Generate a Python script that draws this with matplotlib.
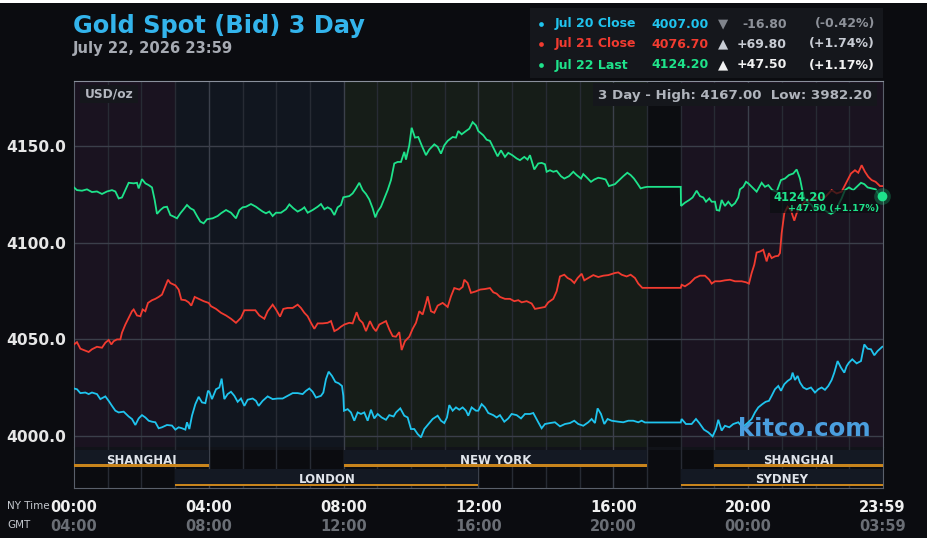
import matplotlib
matplotlib.use('Agg')
import matplotlib.pyplot as plt
import matplotlib.transforms as mtransforms
from matplotlib.patches import Rectangle
from matplotlib.lines import Line2D
import numpy as np

# ---------------- data (minutes after 00:00 NY time, USD/oz) ----------------
jul20_min = [0.0, 5.3, 11.3, 20.2, 26.1, 32.0, 40.9, 46.9, 55.8, 61.7, 67.6, 73.6, 79.5, 88.4, 97.3, 103.2,
             109.2, 115.1, 121.0, 127.0, 132.9, 138.8, 144.8, 150.7, 156.6, 165.5, 174.4, 180.4, 186.3, 192.2,
             198.2, 201.1, 205.3, 210.0, 216.0, 221.9, 227.8, 233.8, 238.5,
             240.9, 245.6, 252.8, 258.7, 262.8, 267.6, 273.5, 279.4, 285.4, 291.3, 297.2, 303.2, 309.1, 318.0,
             323.9, 328.7, 335.8, 344.7, 353.6, 362.5, 371.4, 380.3, 389.2, 398.1, 407.0, 413.0, 418.9, 424.8,
             430.7, 439.6, 443.8, 448.5, 453.3, 459.2, 465.2, 471.1, 477.0, 479.4, 480.6,
             487.1, 493.0, 498.9, 504.9, 510.8, 516.7, 522.7, 528.6, 534.5, 540.5, 547.6, 555.3, 561.2, 568.9,
             573.1, 580.8, 587.9, 593.9, 599.8, 605.7, 611.7, 617.6, 623.5, 629.5, 638.4, 647.3, 653.2, 659.1,
             663.9, 668.0, 674.0, 679.9, 685.8, 691.8, 697.7, 701.8, 707.8, 715.5,
             719.6, 725.6, 731.5, 737.4, 746.3, 752.3, 758.2, 765.9, 773.0, 779.0, 787.9, 795.6, 802.7, 811.6,
             817.5, 826.4, 832.4, 838.3, 847.2, 856.1, 865.0, 873.9, 882.8, 890.5, 897.6, 906.5, 915.4, 921.4,
             927.3, 932.0, 938.0, 943.9, 949.8, 957.0,
             968.8, 977.7, 986.6, 995.5, 1004.4, 1010.4, 1016.3, 1080.0, 1081.6, 1089.3, 1099.4, 1107.1, 1113.0,
             1121.3, 1129.0, 1136.7, 1142.7, 1146.8, 1152.8, 1158.7, 1166.4, 1173.5, 1182.4, 1190.0,
             1200.2, 1206.2, 1212.1, 1218.0, 1225.2, 1231.1, 1237.0, 1241.8, 1247.7, 1253.6, 1258.4, 1264.3,
             1270.2, 1276.2, 1279.1, 1283.3, 1288.0, 1292.2, 1298.1, 1304.1, 1311.8, 1318.9, 1324.8, 1330.8,
             1336.7, 1342.6, 1348.6, 1353.3, 1359.2, 1365.2, 1371.1, 1375.3, 1379.4, 1385.3, 1393.1, 1400.8,
             1406.7, 1412.6, 1418.6, 1424.5, 1430.4, 1438.7]
jul20_px = [4024.6, 4024.2, 4022.2, 4022.5, 4021.7, 4022.5, 4021.7, 4019.1, 4020.5, 4018.2, 4015.6, 4013.1, 4012.2,
            4012.6, 4010.1, 4008.8, 4005.7, 4009.1, 4010.8, 4009.6, 4007.9, 4007.4, 4007.1, 4004.0, 4004.5, 4005.7,
            4005.4, 4003.3, 4004.5, 4004.0, 4003.3, 4007.1, 4003.6, 4010.5, 4016.5, 4020.3, 4017.4, 4017.0, 4023.4,
            4022.9, 4019.1, 4024.2, 4025.1, 4029.7, 4019.1, 4021.7, 4022.9, 4020.8, 4017.7, 4019.4, 4015.6, 4018.8,
            4019.4, 4018.2, 4015.6, 4018.2, 4020.5, 4019.1, 4019.4, 4019.4, 4020.8, 4022.2, 4022.2, 4021.7, 4023.4,
            4024.6, 4022.9, 4019.9, 4020.8, 4022.5, 4029.4, 4033.3, 4031.1, 4028.0, 4027.3, 4025.9, 4020.8, 4013.1,
            4013.9, 4012.2, 4007.9, 4012.2, 4011.4, 4012.2, 4007.9, 4013.6, 4009.1, 4011.4, 4009.6, 4008.4, 4010.8,
            4010.1, 4012.2, 4014.3, 4010.5, 4009.6, 4003.6, 4003.6, 4001.0, 3999.3, 4003.6, 4005.7, 4008.8, 4010.5,
            4007.9, 4006.7, 4009.6, 4016.0, 4013.1, 4014.8, 4013.6, 4014.8, 4013.1, 4010.5, 4014.8, 4013.1,
            4013.1, 4016.5, 4014.8, 4011.9, 4010.8, 4009.6, 4010.8, 4007.4, 4009.1, 4011.4, 4010.8, 4009.1, 4011.4,
            4011.4, 4011.9, 4007.1, 4004.0, 4006.2, 4006.7, 4007.1, 4005.0, 4006.2, 4006.7, 4007.9, 4006.2, 4005.3,
            4007.1, 4008.8, 4006.7, 4014.3, 4011.4, 4006.2, 4008.8, 4007.9,
            4007.4, 4007.1, 4007.9, 4007.9, 4007.1, 4007.9, 4007.0, 4007.0, 4008.8, 4006.2, 4006.2, 4008.8, 4006.7,
            4003.3, 4001.9, 3999.8, 4003.6, 4008.4, 4002.8, 4005.3, 4004.5, 4006.2, 4007.1, 4004.5,
            4007.1, 4008.8, 4012.2, 4014.8, 4016.5, 4017.7, 4018.2, 4020.8, 4024.2, 4025.9, 4023.4, 4026.8,
            4028.5, 4029.7, 4032.8, 4029.0, 4031.1, 4027.7, 4025.1, 4024.2, 4025.1, 4022.5, 4024.2, 4025.1,
            4023.9, 4025.9, 4029.0, 4032.8, 4038.8, 4035.4, 4032.8, 4036.2, 4038.0, 4039.7, 4037.6, 4038.8,
            4047.4, 4045.2, 4044.9, 4041.8, 4044.0, 4046.2]

jul21_min = [0.0, 5.3, 11.3, 17.2, 26.1, 32.0, 40.9, 49.8, 55.8, 61.7, 66.5, 70.6, 76.5, 82.5, 85.4, 91.4, 97.3,
             103.2, 106.2, 112.1, 118.1, 122.2, 127.0, 131.7, 138.8, 144.8, 150.7, 156.6, 161.4, 167.3, 171.5,
             180.4, 186.3, 191.0, 198.2, 204.1, 208.8, 214.8, 221.9, 230.8, 239.7,
             243.9, 252.8, 261.6, 270.6, 279.4, 288.3, 297.2, 303.2, 312.1, 322.8, 329.9, 338.8, 344.7, 353.6,
             359.5, 366.7, 372.6, 380.3, 389.2, 398.1, 404.0, 410.0, 415.9, 421.8, 427.8, 433.7, 442.6, 451.5,
             457.4, 463.4, 469.3, 475.2,
             481.1, 490.0, 496.0, 503.1, 507.8, 513.8, 519.7, 526.8, 532.7, 537.5, 543.4, 549.4, 555.3, 561.2,
             567.2, 573.1, 579.0, 583.2, 589.1, 596.8, 602.8, 608.7, 614.6, 620.6, 626.5, 629.5, 635.4, 641.3,
             647.3, 656.2, 665.1, 671.0, 676.9, 685.8, 691.8, 694.7, 700.7, 706.6, 715.5,
             722.6, 731.5, 740.4, 746.3, 752.3, 758.2, 767.1, 776.0, 783.7, 790.8, 796.8, 805.7, 814.6, 820.5,
             829.4, 838.3, 844.2, 853.1, 859.1, 865.0, 872.7, 878.6, 884.6, 890.5, 896.4, 903.6, 908.3, 915.4,
             924.3, 933.2, 942.1, 951.0,
             962.9, 968.8, 974.8, 983.7, 990.8, 998.5, 1004.4, 1011.6, 1080.0, 1081.6, 1087.5, 1096.4, 1105.3,
             1114.2, 1123.1, 1130.8, 1135.0, 1140.9, 1149.8, 1158.7, 1167.6, 1176.5, 1188.4, 1196.0,
             1201.4, 1206.2, 1210.9, 1215.1, 1221.0, 1226.9, 1232.9, 1237.0, 1241.8, 1247.7, 1253.6, 1256.6,
             1259.6, 1264.3, 1270.2, 1276.2, 1282.1, 1286.3, 1292.2, 1301.1, 1313.0, 1324.8, 1336.7, 1348.6,
             1357.5, 1366.4, 1375.3, 1383.0, 1390.1, 1396.0, 1402.0, 1407.9, 1413.8, 1419.8, 1426.9, 1434.6,
             1439.9]
jul21_px = [4047.4, 4048.6, 4045.2, 4044.5, 4043.5, 4044.9, 4046.2, 4045.7, 4048.3, 4049.7, 4047.4, 4049.1, 4050.0,
            4050.0, 4053.5, 4057.7, 4061.2, 4064.6, 4065.5, 4062.4, 4062.0, 4065.5, 4064.6, 4068.9, 4070.3, 4071.0,
            4072.0, 4073.2, 4076.6, 4080.9, 4079.2, 4078.0, 4075.8, 4070.6, 4070.3, 4069.2, 4067.5, 4072.0, 4071.0,
            4069.8, 4068.9,
            4067.2, 4065.8, 4063.8, 4062.4, 4060.7, 4058.6, 4061.2, 4065.1, 4065.1, 4065.1, 4062.4, 4060.7, 4064.6,
            4068.0, 4065.5, 4061.8, 4065.8, 4066.3, 4066.3, 4068.0, 4066.3, 4063.8, 4062.0, 4058.6, 4055.5, 4058.3,
            4058.3, 4058.6, 4059.5, 4054.3, 4055.2, 4056.6,
            4057.7, 4058.6, 4058.3, 4064.1, 4060.3, 4058.6, 4054.3, 4059.5, 4056.0, 4054.3, 4057.7, 4058.6, 4059.5,
            4055.2, 4051.7, 4051.4, 4053.8, 4044.5, 4049.1, 4051.4, 4055.5, 4058.6, 4064.6, 4062.9, 4068.9, 4072.3,
            4064.6, 4063.8, 4067.5, 4068.9, 4066.8, 4072.3, 4076.6, 4075.8, 4077.2, 4080.9, 4079.2, 4074.1, 4074.9,
            4075.8, 4076.1, 4076.6, 4074.4, 4073.7, 4072.0, 4071.0, 4071.0, 4069.8, 4070.3, 4069.2, 4069.8, 4068.6,
            4065.8, 4066.3, 4066.8, 4069.2, 4071.0, 4074.9, 4082.6, 4083.5, 4081.8, 4080.9, 4079.2, 4081.8, 4084.0,
            4080.6, 4081.8, 4083.3, 4082.3, 4083.0, 4083.3,
            4084.4, 4084.7, 4083.5, 4082.6, 4083.5, 4081.8, 4078.9, 4076.7, 4076.7, 4078.3, 4077.5, 4079.2, 4081.8,
            4083.0, 4083.0, 4080.9, 4078.9, 4080.1, 4080.1, 4080.6, 4080.9, 4080.1, 4080.1, 4079.6,
            4078.9, 4084.4, 4088.7, 4095.0, 4095.5, 4096.4, 4090.4, 4094.7, 4092.1, 4093.0, 4093.3, 4094.7,
            4105.0, 4115.3, 4118.7, 4116.7, 4111.5, 4115.3, 4118.7, 4121.3, 4122.2, 4123.6, 4123.6, 4127.3,
            4125.6, 4126.5, 4131.6, 4135.9, 4137.6, 4136.3, 4140.2, 4136.8, 4134.2, 4132.5, 4131.6, 4129.4,
            4129.4]

jul22_min = [0.0, 5.3, 14.2, 23.1, 32.0, 40.9, 49.8, 58.7, 67.6, 73.6, 79.5, 85.4, 91.4, 97.3, 106.2, 112.1, 115.1,
             121.0, 127.0, 132.9, 138.8, 143.6, 147.7, 153.7, 159.6, 165.5, 171.5, 177.4, 183.3, 189.3, 195.2,
             201.1, 207.1, 213.0, 218.9, 224.9, 230.8, 236.7,
             246.8, 255.7, 261.6, 270.6, 279.4, 288.3, 294.3, 300.2, 306.1, 315.0, 323.9, 329.9, 335.8, 341.7,
             347.7, 353.6, 359.5, 368.4, 377.3, 383.3, 390.4, 398.1, 405.8, 410.0, 415.9, 424.8, 433.7, 439.6,
             445.6, 451.5, 457.4, 463.4, 469.3, 475.2, 479.4,
             490.0, 496.0, 501.9, 507.8, 513.8, 519.7, 525.6, 531.6, 536.3, 540.5, 546.4, 552.3, 558.3, 564.2,
             570.1, 576.1, 582.0, 587.9, 590.9, 596.8, 601.0, 606.9, 612.8, 618.8, 626.5, 632.4, 641.3, 647.3,
             653.2, 659.1, 665.1, 674.0, 679.9, 684.0, 690.0, 697.7, 703.6, 709.6, 715.5,
             719.6, 728.5, 734.5, 740.4, 746.3, 754.0, 760.0, 767.1, 773.0, 780.1, 787.9, 793.8, 801.5, 807.4,
             811.6, 819.3, 826.4, 832.4, 838.3, 841.3, 847.2, 853.1, 859.1, 866.8, 872.7, 881.0, 888.7, 894.7,
             902.4, 906.5, 912.5, 920.2, 926.1, 933.2, 940.3, 946.3, 952.2,
             962.9, 970.6, 977.7, 984.9, 990.8, 996.7, 1002.7, 1008.6, 1014.5, 1020.5, 1080.0, 1080.5, 1087.5,
             1095.2, 1101.1, 1108.3, 1114.2, 1120.1, 1124.9, 1130.8, 1135.0, 1140.9, 1143.9, 1148.6, 1152.8,
             1158.7, 1164.6, 1170.6, 1176.5, 1182.4, 1185.4, 1191.3, 1196.1,
             1200.2, 1209.1, 1215.1, 1224.0, 1229.9, 1235.8, 1243.0, 1250.7, 1258.4, 1265.5, 1272.6, 1280.3,
             1286.3, 1292.2, 1296.3, 1301.1, 1307.0, 1313.0, 1318.9, 1324.8, 1332.0, 1339.7, 1347.4, 1354.5,
             1360.4, 1366.4, 1372.3, 1379.4, 1387.1, 1394.8, 1400.8, 1406.7, 1412.6, 1419.8, 1426.9, 1432.8,
             1439.0]
jul22_px = [4128.7, 4127.3, 4127.0, 4127.7, 4126.3, 4126.6, 4125.3, 4126.6, 4127.3, 4126.6, 4123.0, 4123.5, 4127.3,
            4131.1, 4130.8, 4131.1, 4128.2, 4133.0, 4130.8, 4129.9, 4128.7, 4122.2, 4115.0, 4117.0, 4118.4, 4118.7,
            4114.4, 4113.6, 4112.7, 4115.3, 4117.4, 4119.6, 4117.9, 4117.0, 4113.9, 4111.0, 4110.1, 4112.2,
            4112.7, 4113.9, 4115.3, 4117.0, 4115.6, 4112.7, 4117.0, 4118.4, 4118.7, 4120.1, 4118.7, 4117.4, 4116.2,
            4115.3, 4116.2, 4113.9, 4115.6, 4115.6, 4117.4, 4119.9, 4117.9, 4116.2, 4117.4, 4118.4, 4115.6, 4117.0,
            4118.7, 4120.1, 4117.4, 4118.4, 4117.4, 4114.4, 4118.4, 4119.6, 4123.6,
            4124.2, 4125.6, 4128.2, 4131.1, 4127.3, 4125.3, 4122.5, 4117.9, 4113.2, 4116.2, 4118.7, 4123.0, 4127.3,
            4132.5, 4141.1, 4141.9, 4141.9, 4147.1, 4143.1, 4150.5, 4159.6, 4154.5, 4154.8, 4150.5, 4145.4, 4148.3,
            4151.0, 4149.7, 4146.2, 4150.5, 4152.8, 4154.8, 4154.5, 4157.9, 4156.2, 4157.9, 4159.1, 4162.5, 4160.8,
            4157.9, 4155.7, 4153.4, 4152.8, 4149.3, 4144.8, 4147.9, 4144.5, 4146.6, 4145.4, 4143.7, 4142.8, 4144.5,
            4143.1, 4145.4, 4138.0, 4141.1, 4141.4, 4140.7, 4136.8, 4137.6, 4136.8, 4137.3, 4134.5, 4133.3, 4134.5,
            4136.8, 4135.1, 4133.3, 4135.6, 4133.9, 4131.6, 4132.8, 4133.7, 4133.3, 4132.8, 4129.4,
            4130.4, 4132.5, 4134.5, 4136.3, 4135.1, 4133.3, 4130.8, 4128.2, 4128.7, 4129.0, 4129.0, 4119.1, 4120.8,
            4122.2, 4123.5, 4127.0, 4124.2, 4123.5, 4121.3, 4123.0, 4121.3, 4121.3, 4117.0, 4116.7, 4122.2,
            4119.1, 4121.3, 4119.1, 4120.5, 4123.5, 4127.7, 4129.0, 4131.6,
            4130.8, 4128.2, 4126.5, 4131.1, 4129.0, 4129.9, 4127.3, 4126.5, 4132.5, 4133.3, 4135.1, 4135.9,
            4138.0, 4133.3, 4127.3, 4122.5, 4120.8, 4119.6, 4117.0, 4119.6, 4117.9, 4116.2, 4115.0, 4116.2,
            4119.6, 4123.0, 4127.3, 4128.7, 4127.3, 4129.4, 4131.1, 4130.4, 4128.7, 4128.2, 4127.7, 4124.8,
            4124.2]

legend_labels = ['Jul 20 Close', 'Jul 21 Close', 'Jul 22 Last']
legend_values = ['4007.00', '4076.70', '4124.20']
legend_arrows = ['\u25BC', '\u25B2', '\u25B2']
legend_changes = ['-16.80', '+69.80', '+47.50']
legend_pcts = ['(-0.42%)', '(+1.74%)', '(+1.17%)']

y_ticks = [4000, 4050, 4100, 4150]
x_tick_hours = [0, 4, 8, 12, 16, 20, 23.983]
ny_labels = ['00:00', '04:00', '08:00', '12:00', '16:00', '20:00', '23:59']
gmt_labels = ['04:00', '08:00', '12:00', '16:00', '20:00', '00:00', '03:59']

# sessions: (name, start hour, end hour, row)
sessions = [('SHANGHAI', 0, 4, 0), ('NEW YORK', 8, 17, 0), ('SHANGHAI', 19, 24, 0),
            ('LONDON', 3, 12, 1), ('SYDNEY', 18, 24, 1)]
# background shading zones (start hour, end hour, colour)
zones = [(0, 3, '#1a1320'), (3, 8, '#11161f'), (8, 17, '#161d18'), (17, 18, '#0c0d11'), (18, 24, '#1a1320')]

last_label = '4124.20'
last_change = '+47.50 (+1.17%)'
high_low = '3 Day - High: 4167.00  Low: 3982.20'

# ---------------- styling ----------------
BG = '#0b0c10'
C_BLUE = '#1fc4ee'
C_RED = '#f23b30'
C_GREEN = '#1ee38b'
colors = [C_BLUE, C_RED, C_GREEN]
W, H = 928, 538

def fx(px):
    return px / W

def fy(py):
    return 1 - py / H

fig = plt.figure(figsize=(W / 100, H / 100), dpi=100, facecolor=BG)
plt.rcParams['font.family'] = ['DejaVu Sans']

ax = fig.add_axes([fx(74), fy(447), fx(883) - fx(74), fy(81) - fy(447)])
sax = fig.add_axes([fx(74), fy(488), fx(883) - fx(74), fy(447) - fy(488)])

ax.set_xlim(0, 24)
ax.set_ylim(3994.3, 4183.8)
ax.set_facecolor(BG)
for s, e, c in zones:
    ax.axvspan(s, e, color=c, lw=0, zorder=0)
for h in range(1, 24):
    ax.axvline(h, color='#3b404b' if h % 4 == 0 else '#272b34', lw=1, zorder=1)
for v in y_ticks:
    ax.axhline(v, color='#3b3f4a', lw=1, zorder=1)

ax.set_xticks([])
ax.set_yticks(y_ticks)
ax.set_yticklabels(['%.1f' % v for v in y_ticks], fontsize=11.2, fontweight='bold', color='#e6e6e6')
ax.tick_params(axis='y', length=0, pad=6)
for side in ['left', 'right']:
    ax.spines[side].set_color('#5a606b')
ax.spines['top'].set_color('#8a909c')
ax.spines['bottom'].set_visible(False)

for t, p, c in zip([jul20_min, jul21_min, jul22_min], [jul20_px, jul21_px, jul22_px], colors):
    ax.plot(np.array(t) / 60.0, p, color=c, lw=1.3, zorder=3, solid_joinstyle='miter')

# top labels inside chart
ax.add_patch(Rectangle((0.0074, 0.940), 0.0717, 0.049, transform=ax.transAxes,
                       facecolor='#15171c', edgecolor='none', zorder=4))
ax.text(0.0136, 0.9645, 'USD/oz', transform=ax.transAxes, ha='left', va='center',
        fontsize=8.8, fontweight='bold', color='#b4b8c0', zorder=5)
ax.add_patch(Rectangle((0.6415, 0.9317), 0.3511, 0.0628, transform=ax.transAxes,
                       facecolor='#15171c', edgecolor='none', zorder=4))
ax.text(0.817, 0.9617, high_low, transform=ax.transAxes, ha='center', va='center',
        fontsize=9.6, fontweight='bold', color='#b0b4bc', zorder=5)

# kitco watermark
ax.text(0.8208, 0.030, 'kitco.com', transform=ax.transAxes, ha='left', va='baseline',
        fontsize=17.6, fontweight='bold', color='#4a9ede', zorder=6)

# last value marker and label
end_h = jul22_min[-1] / 60.0
ax.add_patch(Rectangle((0.860, 0.639), 0.136, 0.063, transform=ax.transAxes,
                       facecolor='#0c0e12', edgecolor='none', alpha=0.72, zorder=6))
ax.text(0.897, 0.682, last_label, transform=ax.transAxes, ha='center', va='center',
        fontsize=8.4, fontweight='bold', color=C_GREEN, zorder=7)
ax.text(0.939, 0.653, last_change, transform=ax.transAxes, ha='center', va='center',
        fontsize=6.8, fontweight='bold', color=C_GREEN, zorder=7)
ax.plot([end_h], [jul22_px[-1]], 'o', ms=12, color=C_GREEN, alpha=0.25, zorder=7, clip_on=False, mew=0)
ax.plot([end_h], [jul22_px[-1]], 'o', ms=7, color=C_GREEN, zorder=8, clip_on=False, mew=0)

# ---------------- session bars ----------------
sax.set_xlim(0, 24)
sax.set_ylim(41, 0)
sax.set_facecolor('#0b0c10')
sax.add_patch(Rectangle((0, 0), 24, 3, facecolor='#111319', edgecolor='none', zorder=0))
for h in range(1, 24):
    sax.axvline(h, color='#3b404b' if h % 4 == 0 else '#272b34', lw=1, zorder=1)
row_box = [(3, 16.7), (22, 17.0)]
row_line = [(17.3, 2.4), (36.5, 2.5)]
row_text = [17.0, 36.2]
for name, s, e, r in sessions:
    y0, hgt = row_box[r]
    sax.add_patch(Rectangle((s, y0), e - s, hgt, facecolor='#141923', edgecolor='none', zorder=2))
    ly, lh = row_line[r]
    sax.add_patch(Rectangle((s, ly), e - s, lh, facecolor='#c8841c', edgecolor='none', zorder=3))
    sax.text((s + e) / 2.0, row_text[r], name, ha='center', va='baseline', fontsize=8.5,
             fontweight='bold', color='#e0e4ea', zorder=4)
sax.set_xticks([])
sax.set_yticks([])
for side in ['left', 'right', 'bottom']:
    sax.spines[side].set_color('#5a606b')
sax.spines['top'].set_visible(False)

trans = mtransforms.blended_transform_factory(sax.transData, sax.transAxes)
for hx, a, b in zip(x_tick_hours, ny_labels, gmt_labels):
    sax.text(hx, -0.585, a, transform=trans, ha='center', va='baseline', fontsize=10.5,
             fontweight='bold', color='#f0f0f0', clip_on=False)
    sax.text(hx, -1.041, b, transform=trans, ha='center', va='baseline', fontsize=10.5,
             fontweight='bold', color='#6a6e75', clip_on=False)
fig.text(fx(7), fy(509.3), 'NY Time', ha='left', va='baseline', fontsize=7.5, color='#c4c8ce')
fig.text(fx(7), fy(528), 'GMT', ha='left', va='baseline', fontsize=7.5, color='#c4c8ce')

# ---------------- title & legend ----------------
fig.text(fx(73), fy(32.7), 'Gold Spot (Bid) 3 Day', ha='left', va='baseline', fontsize=17.4,
         fontweight='bold', color='#33b4ec')
fig.text(fx(73), fy(52.7), 'July 22, 2026 23:59', ha='left', va='baseline', fontsize=10.6,
         fontweight='bold', color='#a6aab2')

fig.patches.append(Rectangle((fx(530), fy(78)), fx(883) - fx(530), fy(8) - fy(78),
                             transform=fig.transFigure, facecolor='#15171c', edgecolor='none', zorder=0))
row_y = [24, 44, 65]
chg_colors = ['#8d9199', '#c8ccd4', '#f2f2f2']
arrow_colors = ['#80848c', '#c8ccd4', '#f2f2f2']
for i in range(3):
    yy = fy(row_y[i])
    fig.add_artist(Line2D([fx(541)], [yy], marker='o', ms=3.4, color=colors[i], mew=0,
                          transform=fig.transFigure))
    fig.text(fx(555), yy, legend_labels[i], ha='left', va='center', fontsize=9, fontweight='bold',
             color=colors[i])
    fig.text(fx(709), yy, legend_values[i], ha='right', va='center', fontsize=9, fontweight='bold',
             color=colors[i])
    fig.text(fx(723.5), yy, legend_arrows[i], ha='center', va='center', fontsize=9.5,
             color=arrow_colors[i])
    fig.text(fx(787), yy, legend_changes[i], ha='right', va='center', fontsize=9, fontweight='bold',
             color=chg_colors[i])
    fig.text(fx(875), yy, legend_pcts[i], ha='right', va='center', fontsize=9, fontweight='bold',
             color=chg_colors[i])

# thin white border at the top of the screenshot
fig.patches.append(Rectangle((0, fy(3)), 1, 1 - fy(3), transform=fig.transFigure,
                             facecolor='white', edgecolor='none', zorder=10))

fig.savefig('out.png', dpi=100, facecolor=BG)
